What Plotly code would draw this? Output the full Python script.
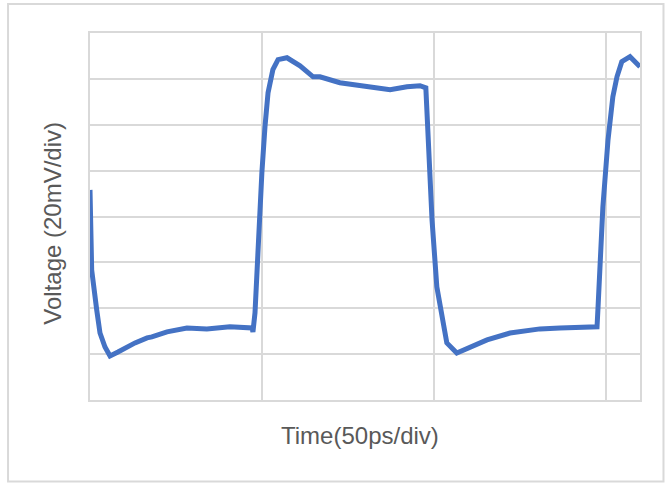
import plotly.graph_objects as go

# Time in ps (50 ps/div), voltage in mV (20 mV/div)
time_ps = [0.0, 0.49, 1.95, 2.91, 4.36, 5.82, 8.14, 11.6, 13.1, 16.6, 18.0, 22.4, 28.2, 34.0,
           40.7, 47.1, 47.4, 48.0, 48.9, 50.0, 50.9, 51.8, 53.2, 54.7, 57.3, 61.1, 64.9, 66.9,
           72.7, 80.6, 87.3, 92.2, 96.0, 97.7, 98.3, 99.5, 100.9, 102.4, 103.8, 106.7, 110.5,
           115.5, 122.2, 127.1, 130.9, 136.7, 142.5, 146.9, 147.5, 147.8, 149.2, 150.7, 152.1,
           153.3, 154.7, 157.1, 159.1, 160.0]
voltage_mv = [11.6, -23.3, -40.7, -50.8, -56.9, -60.8, -59.1, -56.0, -55.1, -52.9, -52.5, -50.3,
              -48.6, -49.0, -48.1, -48.6, -50.3, -42.0, -10.2, 19.1, 39.1, 54.0, 64.0, 68.4, 69.2,
              65.7, 60.9, 60.9, 58.3, 56.6, 55.3, 56.6, 57.0, 56.1, 34.8, -1.5, -30.7, -45.1,
              -55.1, -59.5, -56.9, -53.8, -50.8, -49.5, -49.0, -48.6, -48.1, -48.1, -48.1, -39.4,
              4.2, 33.5, 52.2, 60.9, 67.5, 69.7, 67.1, 65.3]

x_ticks = [0, 50, 100, 150]
y_ticks = [-80, -60, -40, -20, 0, 20, 40, 60, 80]
x_title = "Time(50ps/div)"
y_title = "Voltage (20mV/div)"

grid_col = "#d9d9d9"
text_col = "#595959"
font_fam = "Liberation Sans, Arial, sans-serif"

fig = go.Figure()
fig.add_trace(go.Scatter(
    x=time_ps, y=voltage_mv, mode="lines",
    line=dict(color="#4472C4", width=5),
    hoverinfo="skip", showlegend=False,
))

fig.update_layout(
    width=669, height=483,
    margin=dict(l=90, r=29, t=33, b=83),
    paper_bgcolor="white", plot_bgcolor="white",
    xaxis=dict(range=[0, 160], tickvals=x_ticks, showticklabels=False, ticks="",
               showgrid=True, gridcolor=grid_col, gridwidth=1.5, zeroline=False,
               showline=True, linecolor=grid_col, linewidth=1.5, mirror=True),
    yaxis=dict(range=[-80, 80], tickvals=y_ticks, showticklabels=False, ticks="",
               showgrid=True, gridcolor=grid_col, gridwidth=1.5, zeroline=False,
               showline=True, linecolor=grid_col, linewidth=1.5, mirror=True),
    annotations=[
        dict(text=x_title, xref="paper", yref="paper", x=0.491, y=-0.0955,
             xanchor="center", yanchor="middle", showarrow=False,
             font=dict(family=font_fam, size=24, color=text_col)),
        dict(text=y_title, xref="paper", yref="paper", x=-0.0673, y=0.483,
             xanchor="center", yanchor="middle", showarrow=False, textangle=-90,
             font=dict(family=font_fam, size=24, color=text_col)),
    ],
    shapes=[
        dict(type="rect", xref="paper", yref="paper", x0=-0.149, x1=1.0427,
             y0=-0.222, y1=1.079, line=dict(color=grid_col, width=2), layer="below"),
    ],
)

fig.write_html("out.html", config={"displayModeBar": False},
               post_script="document.body.style.margin='0';")
